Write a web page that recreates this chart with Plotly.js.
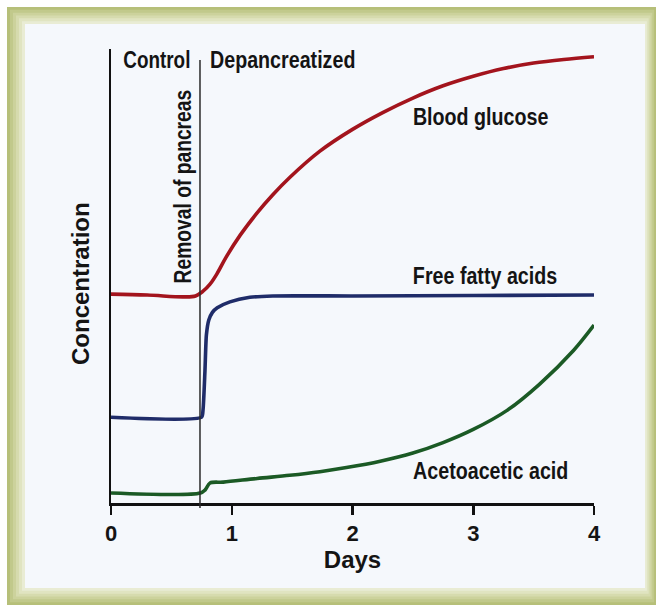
<!DOCTYPE html>
<html>
<head>
<meta charset="utf-8">
<script src="https://cdn.plot.ly/plotly-3.0.1.min.js"></script>
<style>
html,body{margin:0;padding:0;background:#ffffff;}
#chart{width:656px;height:605px;}
/* condensed look for the in-plot labels (narrow font is not installed) */
#chart text.annotation-text:not([data-unformatted="Concentration"]){
  transform-box: fill-box; transform-origin: center; transform: scaleX(0.82);
}
</style>
</head>
<body>
<div id="chart"></div>
<script>
// ---- Data (arbitrary concentration units) ----
const glucoseDays = [0, 0.3, 0.6, 0.70, 0.76, 0.82, 0.88, 0.95, 1.07, 1.21, 1.34, 1.48, 1.73, 2.0, 2.25, 2.5, 2.75, 3.0, 3.25, 3.5, 3.75, 4.0];
const glucose     = [46.0, 45.8, 45.4, 45.6, 46.6, 48.2, 50.6, 54.0, 59.0, 63.9, 67.9, 71.7, 77.5, 82.3, 86.0, 89.2, 91.9, 94.0, 95.7, 96.9, 97.7, 98.3];

const ffaDays = [0, 0.75, 0.762, 0.778, 0.79, 0.81, 0.84, 0.88, 0.985, 1.15, 1.34, 2.0, 3.0, 4.0];
const ffa     = [18.9, 18.9, 20.5, 29.0, 37.0, 40.3, 42.0, 43.0, 44.3, 45.3, 45.6, 45.6, 45.7, 45.8];

const acetoDays = [0, 0.74, 0.78, 0.82, 0.93, 1.21, 1.48, 1.73, 1.95, 2.23, 2.50, 2.75, 3.0, 3.28, 3.55, 3.83, 4.0];
const aceto     = [2.2, 2.2, 2.9, 4.4, 4.6, 5.4, 6.1, 6.9, 7.8, 9.2, 11.0, 13.3, 16.2, 20.4, 26.2, 33.6, 39.2];

const xTickVals = [0, 1, 2, 3, 4];
const xTickText = ['0', '1', '2', '3', '4'];
const removalDay = 0.737;

const seriesLabels = ['Blood glucose', 'Free fatty acids', 'Acetoacetic acid'];
const phaseLabels = ['Control', 'Depancreatized'];
const eventLabel = 'Removal of pancreas';
const xTitle = 'Days';
const yTitle = 'Concentration';

// ---- Layout helpers (pixel -> paper for decoration only) ----
const W = 656, H = 605, L = 111, R = 594, T = 49, B = 503;
const px = v => (v - L) / (R - L);
const py = v => (B - v) / (B - T);

const sans = 'Liberation Sans, Arial, sans-serif';
const txtColor = '#141414';

const traces = [
  {x: glucoseDays, y: glucose, mode: 'lines', name: seriesLabels[0],
   line: {color: '#a3141d', width: 3.6, shape: 'spline', smoothing: 1}, hoverinfo: 'skip'},
  {x: ffaDays, y: ffa, mode: 'lines', name: seriesLabels[1],
   line: {color: '#1f2c69', width: 3.6, shape: 'spline', smoothing: 0.6}, hoverinfo: 'skip'},
  {x: acetoDays, y: aceto, mode: 'lines', name: seriesLabels[2],
   line: {color: '#1b5a25', width: 3.6, shape: 'spline', smoothing: 0.9}, hoverinfo: 'skip'}
];

// Frame: nested rectangles to mimic a soft olive gradient border
const frameColors = ['#b6bf79', '#c1c98b', '#ccd29c', '#d6dbae', '#e0e4c1', '#e9ecd4'];
const shapes = [];
frameColors.forEach((c, i) => {
  const x0 = 7 + i * 3, y0 = 7 + i * 17 / 6, x1 = 656 - i * 11 / 6, y1 = 605 - i * 17 / 6;
  shapes.push({type: 'rect', xref: 'paper', yref: 'paper', layer: 'below',
    x0: px(x0), x1: px(x1), y0: py(y1), y1: py(y0), fillcolor: c, line: {width: 0}});
});
shapes.push({type: 'rect', xref: 'paper', yref: 'paper', layer: 'below',
  x0: px(25), x1: px(645), y0: py(588), y1: py(24), fillcolor: '#f5f8fc', line: {width: 0}});
// Removal divider
shapes.push({type: 'line', xref: 'x', yref: 'paper', x0: removalDay, x1: removalDay,
  y0: py(508), y1: py(60), line: {color: '#2a2a2a', width: 1.5}});

const annFont = (s) => ({family: sans, size: s, color: txtColor, weight: 'bold'});
const annotations = [
  {x: 0.381, y: 97.6, text: phaseLabels[0], font: annFont(23)},
  {x: 1.424, y: 97.6, text: phaseLabels[1], font: annFont(24)},
  {x: 3.064, y: 85.1, text: seriesLabels[0], font: annFont(24)},
  {x: 3.097, y: 50.2, text: seriesLabels[1], font: annFont(24)},
  {x: 3.139, y: 7.2, text: seriesLabels[2], font: annFont(24)},
  {x: 0.59, y: 69.7, text: eventLabel, textangle: -90, font: annFont(23.5)}
].map(a => Object.assign({xref: 'x', yref: 'y', showarrow: false, xanchor: 'center', yanchor: 'middle'}, a));
// y-axis title placed as an annotation (it sits a little below the axis centre in the reference)
annotations.push({xref: 'paper', yref: 'paper', x: px(80), y: py(284), text: yTitle, textangle: -90,
  showarrow: false, xanchor: 'center', yanchor: 'middle', font: annFont(24)});

const layout = {
  width: W, height: H, autosize: false,
  margin: {l: L, r: W - R, t: T, b: H - B, pad: 0},
  paper_bgcolor: '#ffffff', plot_bgcolor: 'rgba(0,0,0,0)',
  showlegend: false,
  xaxis: {range: [0, 4], tickvals: xTickVals, ticktext: xTickText, ticks: 'outside',
    ticklen: 9, tickwidth: 2.5, tickcolor: '#111', showline: true, linewidth: 2.5, linecolor: '#111',
    showgrid: false, zeroline: false, fixedrange: true,
    tickfont: {family: sans, size: 22, color: txtColor, weight: 'bold'},
    title: {text: xTitle, font: {family: sans, size: 24, color: txtColor, weight: 'bold'}, standoff: 0}},
  yaxis: {range: [0, 100], showticklabels: false, ticks: '', showline: true, linewidth: 2.5,
    linecolor: '#111', showgrid: false, zeroline: false, fixedrange: true},
  shapes: shapes,
  annotations: annotations
};

Plotly.newPlot('chart', traces, layout, {displayModeBar: false, staticPlot: true});
</script>
</body>
</html>
